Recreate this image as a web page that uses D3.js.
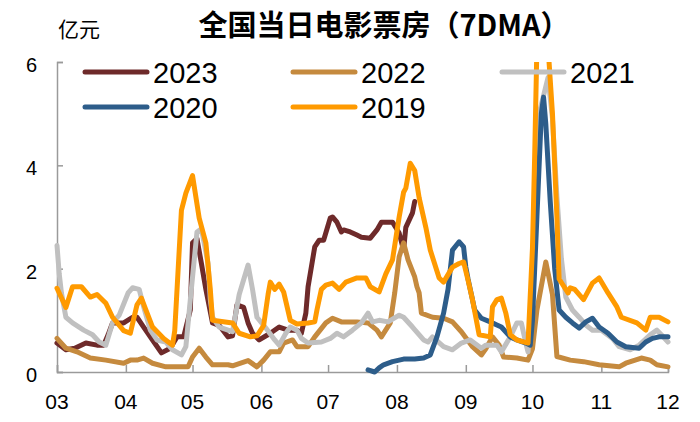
<!DOCTYPE html>
<html><head><meta charset="utf-8">
<script src="https://cdn.jsdelivr.net/npm/d3@7"></script>
<style>
body{margin:0;background:#fff;}
svg{display:block;font-family:"Liberation Sans",Arial,sans-serif;}
</style></head>
<body><svg id="c" width="700" height="422"></svg>
<script>
const title = "全国当日电影票房（7DMA）";
const unitLabel = "亿元";
const xTickLabels = ["03","04","05","06","07","08","09","10","11","12"];
const yTicks = [0,2,4,6];
const seriesNames = ["2023","2022","2021","2020","2019"];
const seriesColors = ["#6E2A2A","#C58A3E","#C0C0C0","#2D5D8A","#FF9A00"];

const s2023 = [["03-01",0.56],["03-05",0.43],["03-09",0.46],["03-14",0.56],["03-19",0.52],["03-22",0.52],["03-24",0.72],["03-26",0.95],["03-31",0.95],["04-04",1.06],["04-06",1.06],["04-09",0.87],["04-13",0.62],["04-17",0.37],["04-21",0.46],["04-24",0.68],["04-27",0.68],["04-30",1.2],["05-01",2.5],["05-03",2.58],["05-05",2.1],["05-07",1.6],["05-10",0.95],["05-13",0.9],["05-17",0.68],["05-19",0.7],["05-21",1.3],["05-24",1.25],["05-26",0.95],["05-28",0.75],["05-31",0.62],["06-05",0.75],["06-09",0.87],["06-13",0.81],["06-17",0.81],["06-19",0.75],["06-21",1.14],["06-22",1.65],["06-25",2.42],["06-27",2.55],["06-29",2.55],["07-02",2.98],["07-03",3.0],["07-05",2.9],["07-07",2.71],["07-08",2.75],["07-11",2.71],["07-14",2.65],["07-16",2.61],["07-20",2.59],["07-23",2.75],["07-25",2.9],["07-30",2.9],["08-02",2.69],["08-04",2.36],["08-05",2.8],["08-08",3.08],["08-09",3.3]];

const s2022 = [["03-01",0.65],["03-05",0.46],["03-10",0.39],["03-16",0.27],["03-23",0.23],["03-31",0.17],["04-03",0.23],["04-06",0.23],["04-09",0.27],["04-13",0.17],["04-19",0.1],["04-25",0.1],["04-29",0.1],["05-01",0.29],["05-04",0.46],["05-07",0.29],["05-10",0.14],["05-17",0.14],["05-19",0.12],["05-26",0.22],["05-30",0.1],["06-02",0.23],["06-05",0.39],["06-09",0.39],["06-11",0.56],["06-15",0.62],["06-17",0.49],["06-22",0.49],["06-25",0.68],["06-30",0.95],["07-03",1.04],["07-07",0.97],["07-14",0.97],["07-19",0.95],["07-23",0.81],["07-25",0.68],["07-29",0.95],["07-31",1.53],["08-02",2.23],["08-04",2.5],["08-06",2.17],["08-09",1.84],["08-10",1.65],["08-11",1.53],["08-12",1.14],["08-17",1.06],["08-22",1.04],["08-26",0.97],["08-30",0.78],["09-04",0.49],["09-08",0.33],["09-10",0.45],["09-13",0.68],["09-16",0.52],["09-18",0.29],["09-24",0.27],["09-29",0.23],["10-01",0.45],["10-03",1.2],["10-07",2.13],["10-10",1.5],["10-12",0.3],["10-18",0.23],["10-24",0.2],["10-31",0.14],["11-09",0.1],["11-12",0.17],["11-19",0.27],["11-23",0.23],["11-26",0.14],["12-01",0.1]];

const s2021 = [["03-01",2.45],["03-02",1.9],["03-03",1.53],["03-05",1.06],["03-08",0.95],["03-13",0.81],["03-17",0.72],["03-20",0.58],["03-23",0.52],["03-26",0.95],["03-29",1.1],["04-02",1.53],["04-04",1.63],["04-07",1.6],["04-09",1.26],["04-12",0.81],["04-15",0.62],["04-19",0.58],["04-22",0.43],["04-26",0.33],["04-28",0.49],["04-30",1.4],["05-03",2.71],["05-05",2.77],["05-06",2.55],["05-08",2.1],["05-09",1.4],["05-10",1.06],["05-13",0.87],["05-19",0.78],["05-22",1.5],["05-26",2.07],["05-28",1.6],["05-30",1.06],["06-03",0.85],["06-07",0.62],["06-09",0.52],["06-12",0.75],["06-14",0.87],["06-17",0.81],["06-19",0.65],["06-22",0.56],["06-28",0.58],["07-02",0.65],["07-05",0.75],["07-08",0.68],["07-12",0.81],["07-16",0.95],["07-19",1.14],["07-21",0.97],["07-24",1.0],["07-28",0.97],["08-02",1.1],["08-04",1.06],["08-08",0.87],["08-13",0.62],["08-15",0.58],["08-17",0.68],["08-22",0.49],["08-26",0.43],["08-30",0.56],["09-03",0.62],["09-08",0.46],["09-10",0.52],["09-15",0.52],["09-17",0.39],["09-21",0.68],["09-24",0.95],["09-26",0.95],["09-28",0.56],["09-29",0.39],["10-01",1.8],["10-04",5.0],["10-08",5.7],["10-10",4.9],["10-12",3.4],["10-14",2.2],["10-16",1.45],["10-19",1.2],["10-22",1.06],["10-25",0.91],["10-28",0.81],["11-01",0.81],["11-06",0.65],["11-09",0.49],["11-14",0.43],["11-18",0.52],["11-23",0.72],["11-26",0.81],["11-28",0.72],["12-01",0.58]];

const s2020 = [["07-19",0.04],["07-22",0.0],["07-24",0.08],["07-26",0.14],["07-30",0.2],["08-04",0.25],["08-09",0.25],["08-13",0.27],["08-16",0.33],["08-19",0.68],["08-22",1.14],["08-24",1.6],["08-26",2.36],["08-29",2.52],["08-31",2.42],["09-01",2.03],["09-02",1.8],["09-05",1.2],["09-08",1.04],["09-12",0.97],["09-15",0.91],["09-17",0.87],["09-21",0.68],["09-24",0.62],["09-28",0.56],["09-30",0.52],["10-01",1.0],["10-03",3.0],["10-05",5.0],["10-06",5.32],["10-07",4.8],["10-09",3.3],["10-11",2.0],["10-13",1.2],["10-16",1.06],["10-19",0.95],["10-22",0.85],["10-25",0.97],["10-28",1.04],["10-31",0.87],["11-04",0.75],["11-08",0.58],["11-12",0.49],["11-18",0.46],["11-21",0.58],["11-24",0.65],["11-27",0.68],["12-01",0.68]];

const s2019 = [["03-01",1.62],["03-05",1.25],["03-08",1.65],["03-12",1.65],["03-16",1.45],["03-19",1.5],["03-23",1.33],["03-26",1.06],["03-31",0.8],["04-03",0.75],["04-06",1.3],["04-08",1.43],["04-10",1.2],["04-13",0.87],["04-18",0.65],["04-22",0.52],["04-23",0.8],["04-26",3.13],["04-28",3.46],["05-01",3.8],["05-04",2.98],["05-07",2.5],["05-09",1.6],["05-10",1.0],["05-19",0.95],["05-22",0.75],["05-27",0.68],["05-30",0.7],["06-02",0.9],["06-04",1.5],["06-05",1.74],["06-07",1.6],["06-09",1.7],["06-11",1.55],["06-14",1.0],["06-17",0.93],["06-22",0.95],["06-25",0.97],["06-26",1.2],["06-28",1.6],["06-30",1.68],["07-03",1.72],["07-06",1.6],["07-09",1.74],["07-14",1.82],["07-18",1.82],["07-20",1.65],["07-24",1.55],["07-27",1.9],["07-30",2.17],["08-02",3.0],["08-04",3.48],["08-05",3.56],["08-07",4.04],["08-09",3.9],["08-11",3.37],["08-14",2.8],["08-16",2.36],["08-20",1.82],["08-22",1.74],["08-26",2.03],["08-29",2.1],["08-31",2.13],["09-02",1.78],["09-04",1.4],["09-07",0.72],["09-12",0.68],["09-13",1.26],["09-15",1.4],["09-17",1.43],["09-19",1.14],["09-21",0.72],["09-24",0.62],["09-29",0.56],["10-01",2.4],["10-02",4.2],["10-03",6.3],["10-08",6.3],["10-10",5.0],["10-12",3.0],["10-13",1.8],["10-17",1.53],["10-18",1.63],["10-20",1.6],["10-24",1.4],["10-28",1.72],["10-31",1.82],["11-04",1.53],["11-08",1.26],["11-10",1.06],["11-17",0.95],["11-21",0.81],["11-23",1.06],["11-27",1.06],["12-01",0.97]];

const allSeries = [s2023, s2022, s2021, s2020, s2019];

const parse = d3.timeParse("%m-%d");
const svg = d3.select("#c");
const L = 57, R = 668, T = 62, B = 372;

const x = d3.scaleTime().domain([parse("03-01"), parse("12-01")]).range([L, R]);
const y = d3.scaleLinear().domain([0, 6]).range([B, T]);

svg.append("defs").append("clipPath").attr("id","clip")
  .append("rect").attr("x", L-5).attr("y", T).attr("width", R-L+10).attr("height", B-T+5);

// axes
const axisColor = "#9A9A9A";
const yAxis = svg.append("g").attr("transform", `translate(${L},0)`)
  .call(d3.axisRight(y).tickValues(yTicks).tickSize(6).tickFormat(""));
yAxis.select(".domain").attr("stroke", axisColor).attr("stroke-width", 1.5);
yAxis.selectAll(".tick line").attr("stroke", axisColor).attr("stroke-width", 1.5);

const xTickDates = xTickLabels.map(m => parse(m + "-01"));
const xAxis = svg.append("g").attr("transform", `translate(0,${B})`)
  .call(d3.axisTop(x).tickValues(xTickDates).tickSize(7).tickFormat(""));
xAxis.select(".domain").attr("stroke", axisColor).attr("stroke-width", 1.5);
xAxis.selectAll(".tick line").attr("stroke", axisColor).attr("stroke-width", 1.5);

// tick labels
svg.append("g").selectAll("text").data(yTicks).join("text")
  .attr("x", 37).attr("y", d => y(d) + 3)
  .attr("text-anchor", "end").attr("dominant-baseline", "central")
  .attr("font-size", 20).attr("fill", "#000").text(d => d);

svg.append("g").selectAll("text").data(xTickLabels).join("text")
  .attr("x", (d, i) => x(xTickDates[i])).attr("y", 401)
  .attr("text-anchor", "middle").attr("dominant-baseline", "central")
  .attr("font-size", 21).attr("fill", "#000").text(d => d);

// lines
const line = d3.line().x(d => x(parse(d[0]))).y(d => y(d[1]));
svg.append("g").attr("clip-path", "url(#clip)").selectAll("path").data(allSeries).join("path")
  .attr("d", line).attr("fill", "none")
  .attr("stroke", (d, i) => seriesColors[i])
  .attr("stroke-width", 5).attr("stroke-linejoin", "round").attr("stroke-linecap", "round");

// title & unit
svg.append("text").attr("x", 384).attr("y", 23).attr("text-anchor", "middle")
  .attr("dominant-baseline", "central")
  .attr("font-family", "'Noto Sans CJK SC', sans-serif").attr("font-weight", "bold")
  .attr("font-size", 29).attr("fill", "#000").text(title);
svg.append("text").attr("x", 58).attr("y", 28)
  .attr("dominant-baseline", "central")
  .attr("font-family", "'Noto Sans CJK SC', sans-serif")
  .attr("font-size", 21).attr("fill", "#000").text(unitLabel);

// legend
const legPos = [[85,72],[293,72],[502,72],[85,107],[293,107]];
const leg = svg.append("g").selectAll("g").data(seriesNames).join("g")
  .attr("transform", (d, i) => `translate(${legPos[i][0]},${legPos[i][1]})`);
leg.append("line").attr("x1", 0).attr("x2", 62).attr("y1", 0).attr("y2", 0)
  .attr("stroke", (d, i) => seriesColors[i]).attr("stroke-width", 5).attr("stroke-linecap", "round");
leg.append("text").attr("x", 68).attr("y", 11).attr("font-size", 29).attr("fill", "#000").text(d => d);
</script></body></html>
